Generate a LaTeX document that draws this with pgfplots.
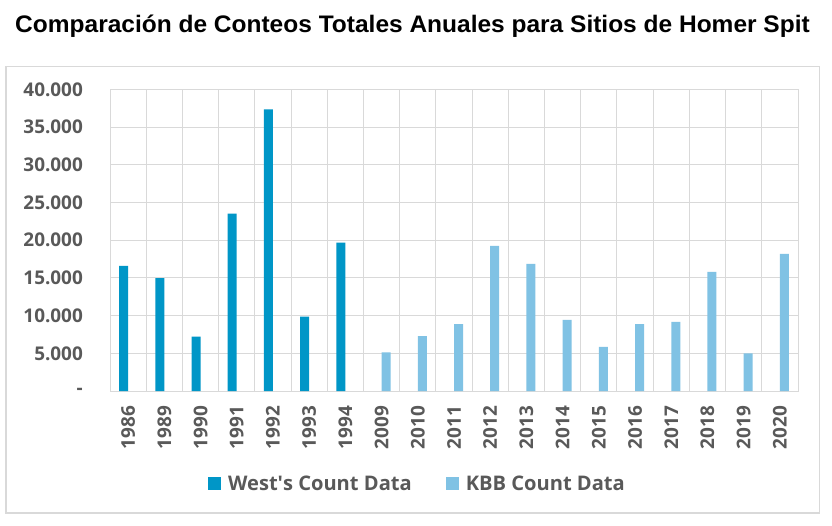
\documentclass[border=0pt]{standalone}
\usepackage{fontspec}
\setmainfont{Open Sans}
\newfontfamily\titlefont{Liberation Sans}
\usepackage{pgfplots}
\pgfplotsset{compat=1.18}
\definecolor{westc}{RGB}{0,150,199}
\definecolor{kbbc}{RGB}{128,194,228}
\definecolor{gridc}{RGB}{217,217,217}
\definecolor{txt}{RGB}{89,89,89}
\pgfplotsset{sqlegend/.style={legend image code/.code={\fill[##1] (0pt,-6.5pt) rectangle (13pt,6.5pt);}}}

\begin{document}
\begin{tikzpicture}[x=1pt,y=1pt]
\fill[white] (0,0) rectangle (832,525);
\draw[gridc, line width=1.5pt] (6,12) rectangle (819.5,458.3);
\node[anchor=base, inner sep=0pt, font=\titlefont\bfseries\fontsize{23.9}{28}\selectfont]
  at (412.5,492.7) {\scalebox{1.025}[1]{Comparación de Conteos Totales Anuales para Sitios de Homer Spit}};
\begin{axis}[
  at={(110pt,134pt)}, anchor=south west,
  scale only axis, width=688pt, height=301.7pt,
  xmin=-0.5, xmax=18.5, ymin=0, ymax=40000,
  xtick={0,...,18},
  xticklabels={1986,1989,1990,1991,1992,1993,1994,2009,2010,2011,2012,2013,2014,2015,2016,2017,2018,2019,2020},
  minor xtick={-0.5,0.5,...,18.5},
  ytick={0,5000,...,40000},
  yticklabels={-\hspace{8pt},5.000,10.000,15.000,20.000,25.000,30.000,35.000,40.000},
  scaled y ticks=false,
  xminorgrids=true, ymajorgrids=true,
  grid style={gridc, line width=1pt},
  minor grid style={gridc, line width=1pt},
  axis line style={gridc, line width=1pt},
  major tick length=0pt, minor tick length=0pt,
  ticklabel style={font=\bfseries\fontsize{18.9}{20}\selectfont, text=txt, inner sep=0pt},
  xticklabel style={rotate=90, anchor=east},
  yticklabel style={anchor=east},
  xticklabel shift=15pt, yticklabel shift=27pt,
  legend columns=2,
  legend style={at={(0.4455,-0.3075)}, anchor=center, draw=none, fill=none,
    font=\bfseries\fontsize{20.1}{22}\selectfont, text=txt,
    nodes={inner sep=0pt},
    /tikz/every odd column/.append style={column sep=7pt},
    /tikz/every even column/.append style={column sep=34pt}},
]
\addplot[ybar, sqlegend, bar width=9pt, bar shift=-4.5pt, fill=westc, draw=none]
  coordinates {(0,16600) (1,14950) (2,7200) (3,23530) (4,37330) (5,9860) (6,19680)};
\addlegendentry{West\textquotesingle s Count Data}
\addplot[ybar, sqlegend, bar width=9pt, bar shift=4.5pt, fill=kbbc, draw=none]
  coordinates {(7,5130) (8,7290) (9,8880) (10,19230) (11,16840) (12,9420)
               (13,5840) (14,8880) (15,9150) (16,15780) (17,5000) (18,18170)};
\addlegendentry{KBB Count Data}
\end{axis}
\end{tikzpicture}
\end{document}
